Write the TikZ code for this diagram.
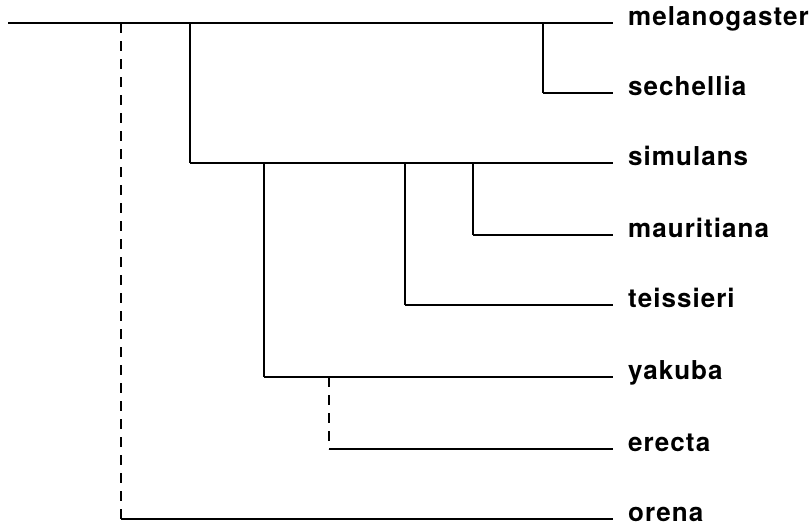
\documentclass[tikz,border=0pt]{standalone}
\usepackage{fontspec}
\setmainfont{TeX Gyre Heros}[LetterSpace=4]
\usetikzlibrary{positioning}

\tikzset{
  taxon/.style={anchor=mid west, inner xsep=15pt, inner ysep=0pt,
    font=\fontsize{26}{31}\selectfont\bfseries},
  hbranch/.style={line width=2.5pt},
  vbranch/.style={line width=1.7pt},
  doubtful/.style={vbranch, dash pattern=on 10pt off 8pt}
}

\begin{document}
\begin{tikzpicture}[x=1pt,y=-1pt]
\useasboundingbox (0,0) rectangle (812,531);

\node[taxon] (mel) at (613,23) {melanogaster};
\node[taxon] (sec) at (613,93) {sechellia};
\node[taxon] (sim) at (613,163) {simulans};
\node[taxon] (mau) at (613,235) {mauritiana};
\node[taxon] (tei) at (613,305) {teissieri};
\node[taxon] (yak) at (613,377) {yakuba};
\node[taxon] (ere) at (613,449) {erecta};
\node[taxon] (ore) at (613,519) {orena};

%
\coordinate (root) at (8,23);
\coordinate (jore) at (121,23);
\coordinate (jsim) at (190,23);
\coordinate (jsec) at (543,23);
\coordinate (jyak) at (264,163);
\coordinate (jtei) at (405,163);
\coordinate (jmau) at (473,163);
\coordinate (jere) at (329,377);

%
\draw[hbranch] (root) -- (mel.mid west);
\draw[vbranch] (jsec) -- (jsec |- sec.mid west);
\draw[hbranch] (jsec |- sec.mid west) -- (sec.mid west);
\draw[vbranch] (jsim) -- (jsim |- sim.mid west);
\draw[hbranch] (jsim |- sim.mid west) -- (sim.mid west);
\draw[vbranch] (jmau) -- (jmau |- mau.mid west);
\draw[hbranch] (jmau |- mau.mid west) -- (mau.mid west);
\draw[vbranch] (jtei) -- (jtei |- tei.mid west);
\draw[hbranch] (jtei |- tei.mid west) -- (tei.mid west);
\draw[vbranch] (jyak) -- (jyak |- yak.mid west);
\draw[hbranch] (jyak |- yak.mid west) -- (yak.mid west);
\draw[doubtful] (jere) -- (jere |- ere.mid west);
\draw[hbranch] (jere |- ere.mid west) -- (ere.mid west);
\draw[doubtful] (jore) -- (jore |- ore.mid west);
\draw[hbranch] (jore |- ore.mid west) -- (ore.mid west);
\end{tikzpicture}
\end{document}
